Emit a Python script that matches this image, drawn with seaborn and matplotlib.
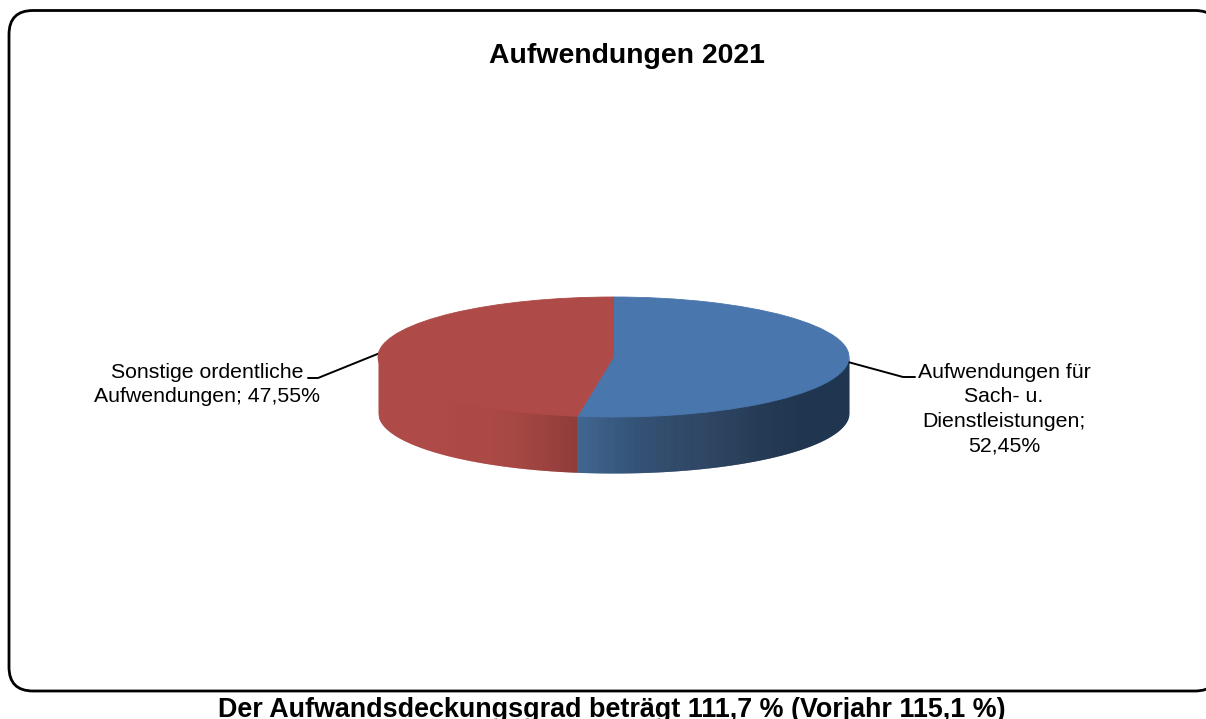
import numpy as np
import matplotlib
matplotlib.use('Agg')
import matplotlib.pyplot as plt
from matplotlib.patches import FancyBboxPatch
import seaborn as sns

# values from the chart
categories = ['Aufwendungen für\nSach- u.\nDienstleistungen;\n52,45%', 'Sonstige ordentliche\nAufwendungen; 47,55%']
shares = [52.45, 47.55]
title = 'Aufwendungen 2021'
footer = 'Der Aufwandsdeckungsgrad beträgt 111,7 % (Vorjahr 115,1 %)'

sns.set_theme(style='white')
plt.rcParams['font.family'] = ['Liberation Sans', 'DejaVu Sans']

W, H = 1206, 719
fig = plt.figure(figsize=(W / 100, H / 100), dpi=100, facecolor='white')

# background axes in pixel coordinates
ax = fig.add_axes([0, 0, 1, 1])
ax.set_xlim(0, W)
ax.set_ylim(H, 0)
ax.axis('off')

# rounded frame, runs off the right edge
frame = FancyBboxPatch((33, 34.5), 1162, 632.5, boxstyle='round,pad=24,rounding_size=24',
                       facecolor='white', edgecolor='black', linewidth=2.0, clip_on=True)
ax.add_patch(frame)

# ellipse of the pie top
cx, cy, rx, ry, depth = 613.5, 357, 235.5, 60, 56

colors = sns.color_palette(['#4A76AE', '#AE4A47'])
blue_wall = sns.blend_palette(['#406690', '#2C4667', '#1F3550'], 60)
red_wall = sns.blend_palette(['#AE4A47', '#A84845', '#8F3C39'], 40)

# side wall: thin strips so the shading runs left to right
split = cx + rx * np.sin(2 * np.pi * shares[0] / 100)

def wall(x0, x1, pal, fade_from, fade_to):
    edges = np.linspace(x0, x1, int(x1 - x0) + 1)
    for a, b in zip(edges[:-1], edges[1:]):
        t = np.clip(((a + b) / 2 - fade_from) / (fade_to - fade_from), 0, 1)
        c = pal[int(t * (len(pal) - 1))]
        xs = np.linspace(a, min(b + 0.6, x1), 4)
        top = cy + ry * np.sqrt(np.clip(1 - ((xs - cx) / rx) ** 2, 0, 1))
        ax.fill_between(xs, top - 2, top + depth, color=c, linewidth=0)

wall(cx - rx, split, red_wall, 440, split)
wall(split, cx + rx, blue_wall, split, 760)

# leader lines
ax.plot([380, 318, 308], [353, 378, 378], color='black', lw=1.4)
ax.plot([848, 903, 915], [362, 377, 377], color='black', lw=1.4)

# pie top, squashed by its own axes
ax_pie = fig.add_axes([(cx - rx) / W, 1 - (cy + ry) / H, 2 * rx / W, 2 * ry / H])
wedges, _ = ax_pie.pie(shares, colors=colors, startangle=90, counterclock=False, radius=1)
for w in wedges:
    w.set_edgecolor(w.get_facecolor())
    w.set_linewidth(0.6)
ax_pie.set_aspect('auto')
ax_pie.set_xlim(-1, 1)
ax_pie.set_ylim(-1, 1)
ax_pie.patch.set_alpha(0)

# texts
ax.text(627, 56, title, ha='center', va='center', fontsize=20.4, fontweight='bold', color='black')
ax.text(1004, 409, categories[0], ha='center', va='center', fontsize=15.3, color='black', linespacing=1.37)
ax.text(207, 384.5, categories[1], ha='center', va='center', fontsize=15.3, color='black', linespacing=1.36)
ax.text(612, 710, footer, ha='center', va='center', fontsize=19.4, fontweight='bold', color='black')

fig.savefig('out.png', dpi=100, facecolor='white')
